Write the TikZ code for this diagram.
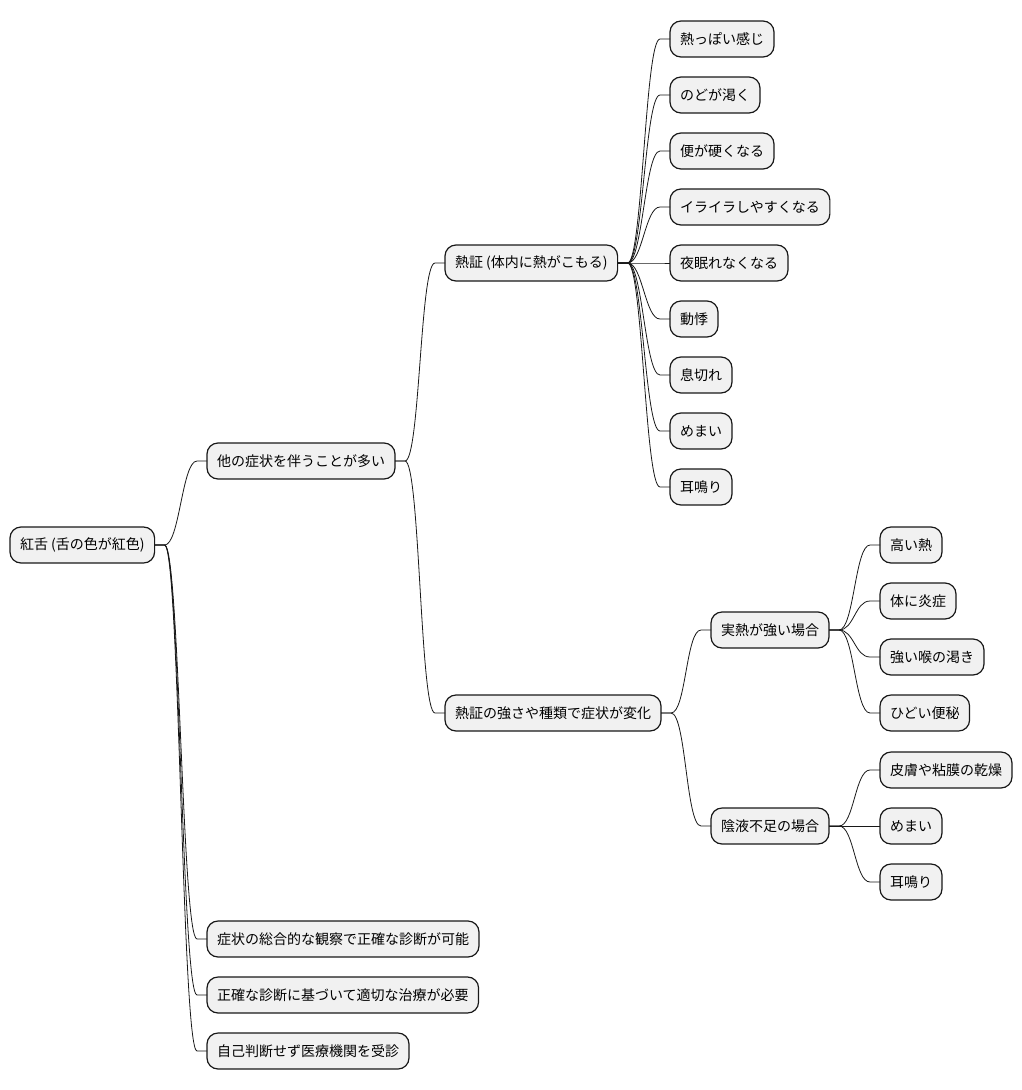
\documentclass[tikz,border=0pt]{standalone}
\usepackage{fontspec}
\setmainfont{Noto Sans CJK JP}
\usetikzlibrary{positioning}
\definecolor{boxfill}{HTML}{F1F1F1}
\definecolor{boxline}{HTML}{181818}

\begin{document}
\begin{tikzpicture}[
  x=1pt, y=-1pt,
  box/.style={rectangle, draw=boxline, fill=boxfill, line width=1.2pt,
    rounded corners=11pt, font=\fontsize{14pt}{16pt}\selectfont,
    minimum height=36pt, inner xsep=10pt, outer sep=0pt, anchor=west},
  leaf/.style={box},
  link/.style={draw=boxline, line width=0.8pt}
]
  \useasboundingbox (0,0) rectangle (1022,1090);

  \node[box] (root) at (10,545) {紅舌 (舌の色が紅色)};
  \node[box] (others) at (207,461) {他の症状を伴うことが多い};
  \node[box] (netsu) at (445,263) {熱証 (体内に熱がこもる)};
  \node[box] (henka) at (445,713) {熱証の強さや種類で症状が変化};
  \node[box] (jitsu) at (711,630) {実熱が強い場合};
  \node[box] (inyeki) at (711,826) {陰液不足の場合};
  \node[box] (kansatsu) at (207,939) {症状の総合的な観察で正確な診断が可能};
  \node[box] (chiryo) at (207,995) {正確な診断に基づいて適切な治療が必要};
  \node[box] (jushin) at (207,1051) {自己判断せず医療機関を受診};

  \node[leaf] (n1) at (670,39) {熱っぽい感じ};
  \node[leaf, below=20pt of n1.south west, anchor=north west] (n2) {のどが渇く};
  \node[leaf, below=20pt of n2.south west, anchor=north west] (n3) {便が硬くなる};
  \node[leaf, below=20pt of n3.south west, anchor=north west] (n4) {イライラしやすくなる};
  \node[leaf, below=20pt of n4.south west, anchor=north west] (n5) {夜眠れなくなる};
  \node[leaf, below=20pt of n5.south west, anchor=north west] (n6) {動悸};
  \node[leaf, below=20pt of n6.south west, anchor=north west] (n7) {息切れ};
  \node[leaf, below=20pt of n7.south west, anchor=north west] (n8) {めまい};
  \node[leaf, below=20pt of n8.south west, anchor=north west] (n9) {耳鳴り};

  \node[leaf] (j1) at (880,545) {高い熱};
  \node[leaf, below=20pt of j1.south west, anchor=north west] (j2) {体に炎症};
  \node[leaf, below=20pt of j2.south west, anchor=north west] (j3) {強い喉の渇き};
  \node[leaf, below=20pt of j3.south west, anchor=north west] (j4) {ひどい便秘};

  \node[leaf] (y1) at (880,770) {皮膚や粘膜の乾燥};
  \node[leaf, below=20pt of y1.south west, anchor=north west] (y2) {めまい};
  \node[leaf, below=20pt of y2.south west, anchor=north west] (y3) {耳鳴り};

  \foreach \a/\b in {root/others, root/kansatsu, root/chiryo, root/jushin,
      others/netsu, others/henka, henka/jitsu, henka/inyeki,
      netsu/n1, netsu/n2, netsu/n3, netsu/n4, netsu/n5, netsu/n6,
      netsu/n7, netsu/n8, netsu/n9,
      jitsu/j1, jitsu/j2, jitsu/j3, jitsu/j4,
      inyeki/y1, inyeki/y2, inyeki/y3}
    \draw[link] (\a.east) -- ++(10,0)
      .. controls +(15,0) and +(-15,0) .. ([xshift=-10pt]\b.west)
      -- (\b.west);
\end{tikzpicture}
\end{document}
